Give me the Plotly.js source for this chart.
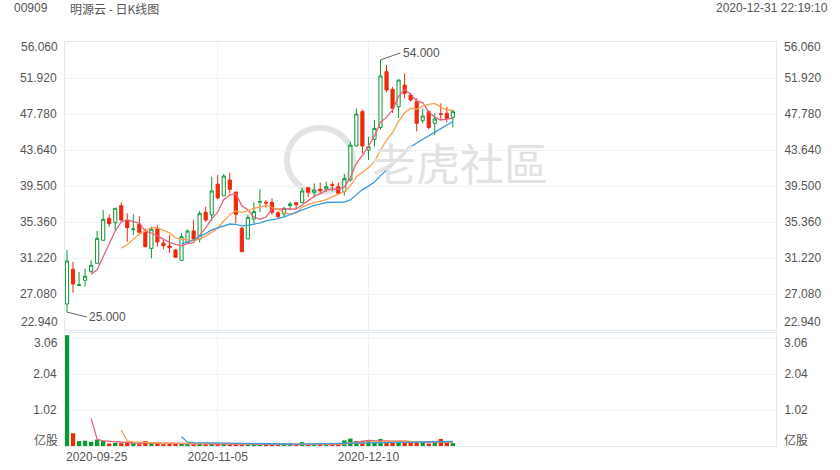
<!DOCTYPE html>
<html>
<head>
<meta charset="utf-8">
<script src="https://cdn.plot.ly/plotly-3.0.1.min.js"></script>
<style>
  html, body { margin: 0; padding: 0; background: #ffffff; }
  #chart { width: 840px; height: 470px; }
</style>
</head>
<body>
<div id="chart"></div>
<script>
// ---- data ----
const dates = [
  "2020-09-25","2020-09-28","2020-09-29","2020-09-30",
  "2020-10-05","2020-10-06","2020-10-07","2020-10-08","2020-10-09",
  "2020-10-12","2020-10-14","2020-10-15","2020-10-16",
  "2020-10-19","2020-10-20","2020-10-21","2020-10-22","2020-10-23",
  "2020-10-27","2020-10-28","2020-10-29","2020-10-30",
  "2020-11-02","2020-11-03","2020-11-04","2020-11-05","2020-11-06",
  "2020-11-09","2020-11-10","2020-11-11","2020-11-12","2020-11-13",
  "2020-11-16","2020-11-17","2020-11-18","2020-11-19","2020-11-20",
  "2020-11-23","2020-11-24","2020-11-25","2020-11-26","2020-11-27",
  "2020-11-30",
  "2020-12-01","2020-12-02","2020-12-03","2020-12-04",
  "2020-12-07","2020-12-08","2020-12-09","2020-12-10","2020-12-11",
  "2020-12-14","2020-12-15","2020-12-16","2020-12-17","2020-12-18",
  "2020-12-21","2020-12-22","2020-12-23","2020-12-24",
  "2020-12-28","2020-12-29","2020-12-30","2020-12-31"
];
const openP  = [25.93,29.92,28.05,28.66,29.69,30.61,33.26,35.79,35.29,37.24,
                35.52,34.50,35.13,34.25,32.33,34.59,32.94,32.60,32.14,30.95,
                32.98,34.33,33.41,36.48,36.17,39.71,38.38,40.19,38.81,34.63,
                33.41,35.71,37.65,37.62,37.62,36.43,36.28,37.24,37.58,37.62,
                39.30,38.78,39.12,39.16,39.65,39.42,38.85,40.20,44.10,48.05,
                43.64,44.87,46.24,52.65,50.62,48.62,51.11,49.96,49.19,47.01,
                48.05,46.71,47.80,47.86,47.40];
const highP  = [32.14,30.79,29.60,30.00,30.99,34.33,36.74,36.25,36.94,37.62,
                36.36,36.25,36.02,34.60,34.82,35.00,33.29,33.87,32.20,34.06,
                34.50,35.59,36.60,37.12,40.57,40.77,40.90,41.03,38.81,34.80,
                36.20,37.62,39.12,37.90,38.10,36.60,37.10,37.70,37.60,39.30,
                39.40,39.80,39.90,40.00,40.00,39.90,40.90,44.60,48.43,48.30,
                45.18,47.09,54.00,53.41,50.90,51.69,52.46,50.20,49.58,48.43,
                48.20,47.86,49.00,48.60,48.30];
const lowP   = [25.00,27.23,28.00,27.92,29.46,30.61,33.26,34.82,34.44,35.40,
                33.10,33.87,33.87,32.44,31.19,32.52,32.25,31.83,31.30,30.95,
                32.90,33.30,33.00,35.40,35.47,38.00,38.38,38.66,35.21,31.95,
                33.41,35.21,36.48,37.00,36.20,35.80,35.90,36.70,36.90,37.50,
                38.20,38.20,38.60,38.80,38.90,38.60,38.40,40.00,44.00,43.26,
                42.49,44.03,46.00,50.30,47.90,47.29,49.58,49.20,45.78,46.71,
                46.00,45.37,47.09,46.80,46.24];
const closeP = [30.88,28.23,28.15,29.12,30.38,33.48,35.67,35.17,36.94,35.59,
                34.71,34.55,34.18,32.52,34.52,33.06,32.63,32.40,31.30,33.67,
                34.33,33.41,36.36,35.59,38.93,38.13,40.65,39.12,36.25,31.95,
                35.90,36.55,37.70,37.55,36.48,35.97,36.94,37.43,37.35,38.93,
                38.78,39.04,38.96,39.42,39.58,38.66,40.35,44.20,47.78,44.10,
                44.03,46.13,52.15,50.54,48.43,51.69,50.16,49.39,46.71,47.55,
                46.24,47.21,47.75,47.29,48.05];
// volume in 亿股 (100 million shares)
const volume = [3.14,0.36,0.14,0.15,0.12,0.18,0.15,0.07,0.09,0.08,
                0.09,0.08,0.05,0.14,0.08,0.09,0.05,0.08,0.07,0.06,
                0.06,0.05,0.07,0.05,0.07,0.06,0.06,0.05,0.07,0.08,
                0.06,0.05,0.05,0.04,0.05,0.04,0.04,0.04,0.05,0.11,
                0.05,0.05,0.04,0.05,0.04,0.05,0.16,0.21,0.14,0.14,
                0.14,0.12,0.20,0.14,0.11,0.12,0.11,0.11,0.14,0.11,
                0.07,0.09,0.20,0.11,0.08];
const priceTicks = [22.94,27.08,31.22,35.36,39.50,43.64,47.78,51.92,56.06];
const volTicks = [0,1.02,2.04,3.06];
const xTickDates = ["2020-09-25","2020-11-05","2020-12-10"];
const maPeriods = [5,10,20];
const maColors = ["#e8607c","#f9a04c","#3d9be0"];
const headerCode = "00909";
const headerName = "明源云 - 日K线图";
const headerTime = "2020-12-31 22:19:10";
const watermark = "老虎社區";

// ---- styles ----
const UP = "#0a9a34", DOWN = "#ec2a0c";
const GRID = "#edf3f8", AXIS = "#e2eaf1", TXT = "#555555";
const FONT = "Liberation Sans, Arial, sans-serif";
const CJK = "Noto Sans CJK SC, Liberation Sans, sans-serif";

function movingAvg(arr, n) {
  return arr.map((v, i) => {
    if (i < n - 1) return null;
    let s = 0;
    for (let k = i - n + 1; k <= i; k++) s += arr[k];
    return s / n;
  });
}

const traces = [];
traces.push({
  type: "candlestick", x: dates, open: openP, high: highP, low: lowP, close: closeP,
  xaxis: "x", yaxis: "y", whiskerwidth: 0, hoverinfo: "skip", showlegend: false,
  increasing: { line: { color: UP, width: 1 }, fillcolor: "#ffffff" },
  decreasing: { line: { color: DOWN, width: 1 }, fillcolor: DOWN }
});
maPeriods.forEach((n, j) => {
  traces.push({
    type: "scatter", mode: "lines", x: dates, y: movingAvg(closeP, n),
    xaxis: "x", yaxis: "y", line: { color: maColors[j], width: 1.3 },
    hoverinfo: "skip", showlegend: false
  });
});
traces.push({
  type: "bar", x: dates, y: volume, xaxis: "x2", yaxis: "y2",
  marker: { color: closeP.map((c, i) => c >= openP[i] ? UP : DOWN), line: { width: 0 } },
  hoverinfo: "skip", showlegend: false
});
maPeriods.forEach((n, j) => {
  traces.push({
    type: "scatter", mode: "lines", x: dates, y: movingAvg(volume, n),
    xaxis: "x2", yaxis: "y2", line: { color: maColors[j], width: 1.3 },
    hoverinfo: "skip", showlegend: false
  });
});

const xRange = [-0.33, 117.6];
const priceRange = [priceTicks[0], priceTicks[priceTicks.length - 1]];
const volRange = [0, volTicks[1] * 113 / 36];

const fmt3 = v => v.toFixed(3);
const fmt2 = v => v.toFixed(2);

function yAx(extra) {
  return Object.assign({
    showgrid: true, gridcolor: GRID, gridwidth: 1, zeroline: false,
    showline: true, linecolor: AXIS, mirror: true, ticks: "",
    tickfont: { family: FONT, size: 12, color: TXT }, ticklabelstandoff: 5,
    fixedrange: true
  }, extra);
}

const layout = {
  width: 840, height: 470,
  margin: { l: 65, r: 64, t: 42, b: 24 },
  paper_bgcolor: "#ffffff", plot_bgcolor: "#ffffff",
  showlegend: false, boxgap: 0.25, bargap: 0.28,
  xaxis: {
    type: "category", domain: [0, 1], anchor: "y", range: xRange,
    tickvals: xTickDates.slice(1), showticklabels: false, ticks: "",
    showgrid: true, gridcolor: GRID, zeroline: false,
    showline: true, linecolor: AXIS, mirror: true,
    rangeslider: { visible: false }, fixedrange: true
  },
  xaxis2: {
    type: "category", domain: [0, 1], anchor: "y2", matches: "x", range: xRange,
    tickvals: xTickDates.slice(1), ticktext: xTickDates.slice(1), ticks: "",
    tickfont: { family: FONT, size: 12, color: TXT },
    showgrid: true, gridcolor: GRID, zeroline: false,
    showline: true, linecolor: AXIS, mirror: true, fixedrange: true
  },
  yaxis: yAx({ domain: [0.2871, 1], range: priceRange, anchor: "x", side: "left",
    tickvals: priceTicks, ticktext: priceTicks.map((v, i) => (i === 0 || i === priceTicks.length - 1) ? "" : fmt3(v)) }),
  yaxis3: yAx({ overlaying: "y", range: priceRange, anchor: "x", side: "right", showgrid: false,
    tickvals: priceTicks, ticktext: priceTicks.map((v, i) => (i === 0 || i === priceTicks.length - 1) ? "" : fmt3(v)) }),
  yaxis2: yAx({ domain: [0, 0.2797], range: volRange, anchor: "x2", side: "left",
    tickvals: volTicks, ticktext: volTicks.map((v, i) => (i === 0 || i === volTicks.length - 1) ? "" : fmt2(v)) }),
  yaxis4: yAx({ overlaying: "y2", range: volRange, anchor: "x2", side: "right", showgrid: false,
    tickvals: volTicks, ticktext: volTicks.map((v, i) => (i === 0 || i === volTicks.length - 1) ? "" : fmt2(v)) }),
  shapes: [
    { type: "circle", xref: "paper", yref: "paper", x0: 0.3122, x1: 0.405, y0: 0.628, y1: 0.788,
      line: { color: "#e3e3e3", width: 6 }, layer: "below" }
  ],
  annotations: []
};

// placeholder traces so yaxis3 / yaxis4 render
traces.push({ type: "scatter", x: [dates[0]], y: [null], xaxis: "x", yaxis: "y3", hoverinfo: "skip", showlegend: false });
traces.push({ type: "scatter", x: [dates[0]], y: [null], xaxis: "x2", yaxis: "y4", hoverinfo: "skip", showlegend: false });

const ann = layout.annotations;
const lblFont = { family: FONT, size: 12, color: TXT };
// edge tick labels (pulled inside the panel like the original)
[[priceTicks[priceTicks.length - 1], "y", fmt3(priceTicks[priceTicks.length - 1]), -5, lblFont],
 [priceTicks[0], "y", fmt3(priceTicks[0]), 8, lblFont],
 [volTicks[volTicks.length - 1], "y2", fmt2(volTicks[volTicks.length - 1]), -5, lblFont],
 [volTicks[0], "y2", "亿股", 7, { family: CJK, size: 12, color: TXT }]].forEach(([v, yr, t, sh, f]) => {
  ann.push({ xref: "paper", yref: yr, x: 0, y: v, text: t, showarrow: false, xanchor: "right", yanchor: "middle", xshift: -5, yshift: sh, font: f });
  ann.push({ xref: "paper", yref: yr, x: 1, y: v, text: t, showarrow: false, xanchor: "left", yanchor: "middle", xshift: 6, yshift: sh, font: f });
});
// first date label (left-aligned at the panel edge)
ann.push({ xref: "paper", yref: "paper", x: 0, y: 0, text: xTickDates[0], showarrow: false,
  xanchor: "left", yanchor: "top", yshift: -2, xshift: -1, font: lblFont });

// max / min markers
let maxI = 0, minI = 0;
highP.forEach((v, i) => { if (v > highP[maxI]) maxI = i; });
lowP.forEach((v, i) => { if (v < lowP[minI]) minI = i; });
ann.push({ xref: "x", yref: "y", x: dates[maxI], y: highP[maxI], text: fmt3(highP[maxI]),
  showarrow: true, arrowhead: 0, arrowwidth: 1, arrowcolor: "#666", ax: 20, ay: -7,
  xanchor: "left", yanchor: "middle", font: lblFont });
ann.push({ xref: "x", yref: "y", x: dates[minI], y: lowP[minI], text: fmt3(lowP[minI]),
  showarrow: true, arrowhead: 0, arrowwidth: 1, arrowcolor: "#666", ax: 20, ay: 5,
  xanchor: "left", yanchor: "middle", font: lblFont });

// header
ann.push({ xref: "paper", yref: "paper", x: -0.0745, y: 1.084, text: headerCode, showarrow: false,
  xanchor: "left", yanchor: "middle", font: { family: FONT, size: 12, color: TXT } });
ann.push({ xref: "paper", yref: "paper", x: 0.0042, y: 1.084, text: headerName, showarrow: false,
  xanchor: "left", yanchor: "middle", font: { family: CJK, size: 12, color: TXT } });
ann.push({ xref: "paper", yref: "paper", x: 1.076, y: 1.084, text: headerTime, showarrow: false,
  xanchor: "right", yanchor: "middle", font: { family: FONT, size: 12, color: TXT } });
// watermark
ann.push({ xref: "paper", yref: "paper", x: 0.5556, y: 0.703, text: watermark, showarrow: false,
  xanchor: "center", yanchor: "middle", font: { family: CJK, size: 44, color: "#e2e2e2" } });

Plotly.newPlot("chart", traces, layout, { staticPlot: true, displayModeBar: false });
</script>
</body>
</html>
